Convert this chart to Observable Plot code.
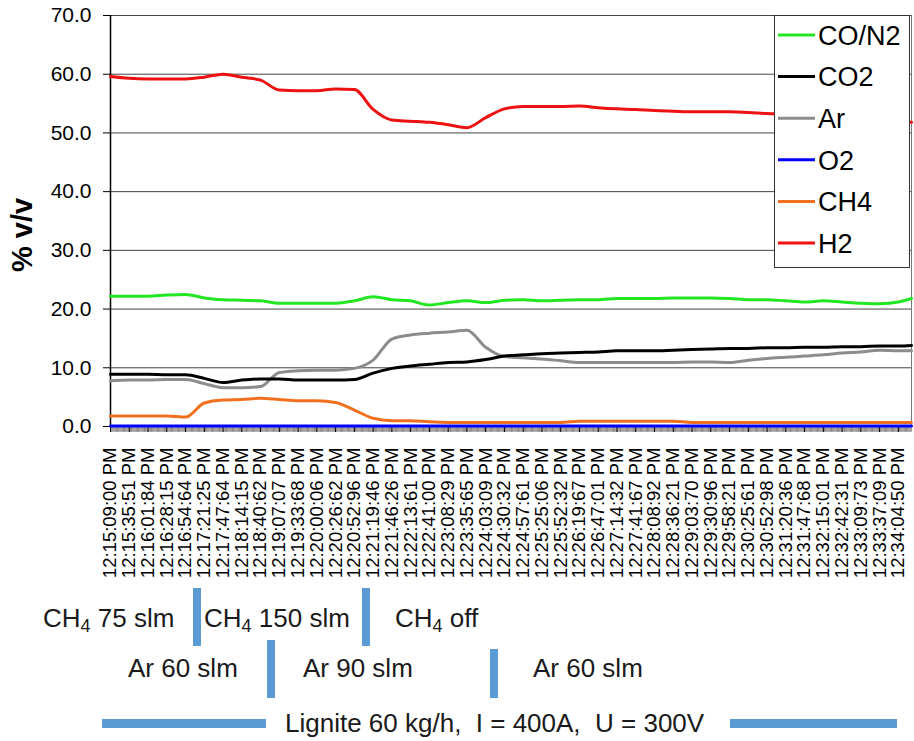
<!DOCTYPE html>
<html><head><meta charset="utf-8">
<script src="https://cdn.jsdelivr.net/npm/d3@7"></script>
<script src="https://cdn.jsdelivr.net/npm/@observablehq/plot@0.6"></script>
<style>
body{margin:0;background:#fff;}
#wrap{position:relative;width:914px;height:741px;font-family:"Liberation Sans",Arial,sans-serif;}
#wrap > svg{position:absolute;left:0;top:0;}
</style></head><body><div id="wrap"></div>
<script>
// ---- data ----
const labels = [
  "12:15:09:00 PM","12:15:35:51 PM","12:16:01:84 PM","12:16:28:15 PM","12:16:54:64 PM","12:17:21:25 PM",
  "12:17:47:64 PM","12:18:14:15 PM","12:18:40:62 PM","12:19:07:07 PM","12:19:33:68 PM","12:20:00:06 PM",
  "12:20:26:62 PM","12:20:52:96 PM","12:21:19:46 PM","12:21:46:26 PM","12:22:13:61 PM","12:22:41:00 PM",
  "12:23:08:29 PM","12:23:35:65 PM","12:24:03:09 PM","12:24:30:32 PM","12:24:57:61 PM","12:25:25:06 PM",
  "12:25:52:32 PM","12:26:19:67 PM","12:26:47:01 PM","12:27:14:32 PM","12:27:41:67 PM","12:28:08:92 PM",
  "12:28:36:21 PM","12:29:03:70 PM","12:29:30:96 PM","12:29:58:21 PM","12:30:25:61 PM","12:30:52:98 PM",
  "12:31:20:36 PM","12:31:47:68 PM","12:32:15:01 PM","12:32:42:31 PM","12:33:09:73 PM","12:33:37:09 PM",
  "12:34:04:50 PM"
];
// sample positions in label steps (one sample per label, plus the last recorded sample)
const lastSample = 42.7;
const samplePos = [...labels.map((_, i) => i), lastSample];

const seriesNames  = ["CO/N2", "CO2", "Ar", "O2", "CH4", "H2"];
const seriesColors = ["#22e622", "#000000", "#8c8c8c", "#0000ff", "#f07020", "#ee1111"];

const coN2 = [22.2,22.2,22.2,22.4,22.5,21.9,21.6,21.5,21.4,21.0,21.0,21.0,21.0,21.4,22.1,21.6,21.4,20.7,21.1,21.4,
              21.1,21.5,21.6,21.4,21.5,21.6,21.6,21.8,21.8,21.8,21.9,21.9,21.9,21.8,21.6,21.6,21.4,21.2,21.4,21.2,
              21.0,20.9,21.2,21.8];
const co2  = [8.9,8.9,8.9,8.8,8.8,8.2,7.5,7.9,8.1,8.1,7.9,7.9,7.9,8.0,9.1,9.9,10.3,10.6,10.9,11.0,
              11.4,12.0,12.2,12.4,12.5,12.6,12.7,12.9,12.9,12.9,13.0,13.1,13.2,13.3,13.3,13.4,13.4,13.5,13.5,13.6,
              13.6,13.7,13.7,13.8];
const ar   = [7.8,7.9,7.9,8.0,8.0,7.3,6.6,6.6,6.8,9.2,9.5,9.6,9.6,9.9,11.3,14.9,15.6,15.9,16.1,16.4,
              13.5,11.9,11.7,11.5,11.2,10.9,10.9,10.9,10.9,10.9,10.9,11.0,11.0,10.9,11.3,11.6,11.8,12.0,12.2,12.5,
              12.7,13.0,12.9,12.9];
const o2   = [0.1,0.1,0.1,0.1,0.1,0.1,0.1,0.1,0.1,0.1,0.1,0.1,0.1,0.1,0.1,0.1,0.1,0.1,0.1,0.1,
              0.1,0.1,0.1,0.1,0.1,0.1,0.1,0.1,0.1,0.1,0.1,0.1,0.1,0.1,0.1,0.1,0.1,0.1,0.1,0.1,
              0.1,0.1,0.1,0.1];
const ch4  = [1.8,1.8,1.8,1.8,1.6,4.0,4.5,4.6,4.8,4.6,4.4,4.4,4.1,2.8,1.4,1.0,1.0,0.8,0.7,0.7,
              0.7,0.7,0.7,0.7,0.7,0.9,0.9,0.9,0.9,0.9,0.9,0.7,0.7,0.7,0.7,0.7,0.7,0.7,0.7,0.7,
              0.7,0.7,0.7,0.7];
const h2   = [59.6,59.3,59.2,59.2,59.2,59.5,60.0,59.5,59.0,57.3,57.2,57.2,57.5,57.4,54.0,52.2,52.0,51.8,51.4,50.9,
              52.6,54.1,54.5,54.5,54.5,54.6,54.3,54.1,54.0,53.8,53.7,53.6,53.6,53.6,53.5,53.3,53.2,53.0,52.8,52.6,
              52.4,52.2,52.0,51.8];

const yTicks = [0, 10, 20, 30, 40, 50, 60, 70];
const yTitle = "% v/v";

const ch4Notes = [["75 slm", 43], ["150 slm", 204], ["off", 395]];
const arNotes  = [["Ar 60 slm", 128], ["Ar 90 slm", 303], ["Ar 60 slm", 533]];
const condText = "Lignite 60 kg/h,  I = 400A,  U = 300V";

// ---- build table ----
const drawOrder = [["CH4", ch4], ["Ar", ar], ["CO2", co2], ["CO/N2", coN2], ["H2", h2], ["O2", o2]];
const rows = [];
drawOrder.forEach(([name, vals]) => vals.forEach((v, i) => rows.push({name, x: samplePos[i], v})));
const minorTicks = d3.range(0, lastSample, 1 / 16);

const font = '"Liberation Sans", Arial, sans-serif';
const chart = Plot.plot({
  width: 914, height: 590,
  marginLeft: 110, marginRight: 3, marginTop: 15, marginBottom: 164,
  style: {fontFamily: font, background: "transparent", color: "#000"},
  x: {domain: [0, lastSample]},
  y: {domain: [0, 70]},
  color: {domain: seriesNames, range: seriesColors},
  marks: [
    Plot.gridY(yTicks, {stroke: "#444", strokeOpacity: 1, strokeWidth: 1}),
    Plot.ruleX([lastSample], {stroke: "#777", strokeWidth: 1}),
    Plot.axisY(yTicks, {tickFormat: d => d.toFixed(1), tickSize: 7, tickPadding: 12, fontSize: 21, label: null}),
    Plot.ruleX(minorTicks, {x: d => d, y1: 0, y2: -1, stroke: "#333", strokeWidth: 0.6}),
    Plot.axisX(d3.range(labels.length), {tickFormat: i => labels[i], tickRotate: -90, tickSize: 6, tickPadding: 15, fontSize: 18.5, label: null}),
    Plot.ruleX([0], {stroke: "#000", strokeWidth: 1.5}),
    Plot.ruleY([0], {stroke: "#000", strokeWidth: 1}),
    Plot.lineY(rows, {x: "x", y: "v", z: "name", stroke: "name", strokeWidth: 3, curve: "monotone-x"})
  ]
});
const wrap = d3.select("#wrap");
wrap.node().appendChild(chart);

// ---- overlay: title, legend, annotations ----
const over = wrap.append("svg").attr("width", 914).attr("height", 741)
  .style("font-family", font).style("pointer-events", "none");

over.append("text").attr("transform", "translate(22,235) rotate(-90)")
  .attr("text-anchor", "middle").attr("dy", "0.36em")
  .attr("font-size", 29).attr("font-weight", "bold").text(yTitle);

// legend
over.append("rect").attr("x", 774.5).attr("y", 15.5).attr("width", 135).attr("height", 252)
  .attr("fill", "#fff").attr("stroke", "#333");
seriesNames.forEach((n, i) => {
  const cy = 35 + i * 41.6;
  over.append("line").attr("x1", 778).attr("x2", 815).attr("y1", cy).attr("y2", cy)
    .attr("stroke", seriesColors[i]).attr("stroke-width", 3);
  over.append("text").attr("x", 818).attr("y", cy + 9.7).attr("font-size", 27).text(n);
});

// annotations
const ink = "#1a1a1a", barC = "#5b9bd5";
ch4Notes.forEach(([t, x]) => {
  const tx = over.append("text").attr("x", x).attr("y", 627).attr("font-size", 26).attr("fill", ink);
  tx.append("tspan").text("CH");
  tx.append("tspan").attr("font-size", 18).attr("dy", 5).text("4");
  tx.append("tspan").attr("dy", -5).text(" " + t);
});
arNotes.forEach(([t, x]) => {
  over.append("text").attr("x", x).attr("y", 677).attr("font-size", 26).attr("fill", ink).text(t);
});
over.append("text").attr("x", 285).attr("y", 732).attr("font-size", 26).attr("fill", ink)
  .style("white-space", "pre").attr("xml:space", "preserve").text(condText);

[[193, 588, 58], [362, 588, 58], [267, 640, 58], [490, 649, 49]].forEach(([x, y, h]) =>
  over.append("rect").attr("x", x).attr("y", y).attr("width", 8).attr("height", h).attr("fill", barC));
[[102, 164], [730, 167]].forEach(([x, w]) =>
  over.append("rect").attr("x", x).attr("y", 719).attr("width", w).attr("height", 9).attr("fill", barC));
</script></body></html>
